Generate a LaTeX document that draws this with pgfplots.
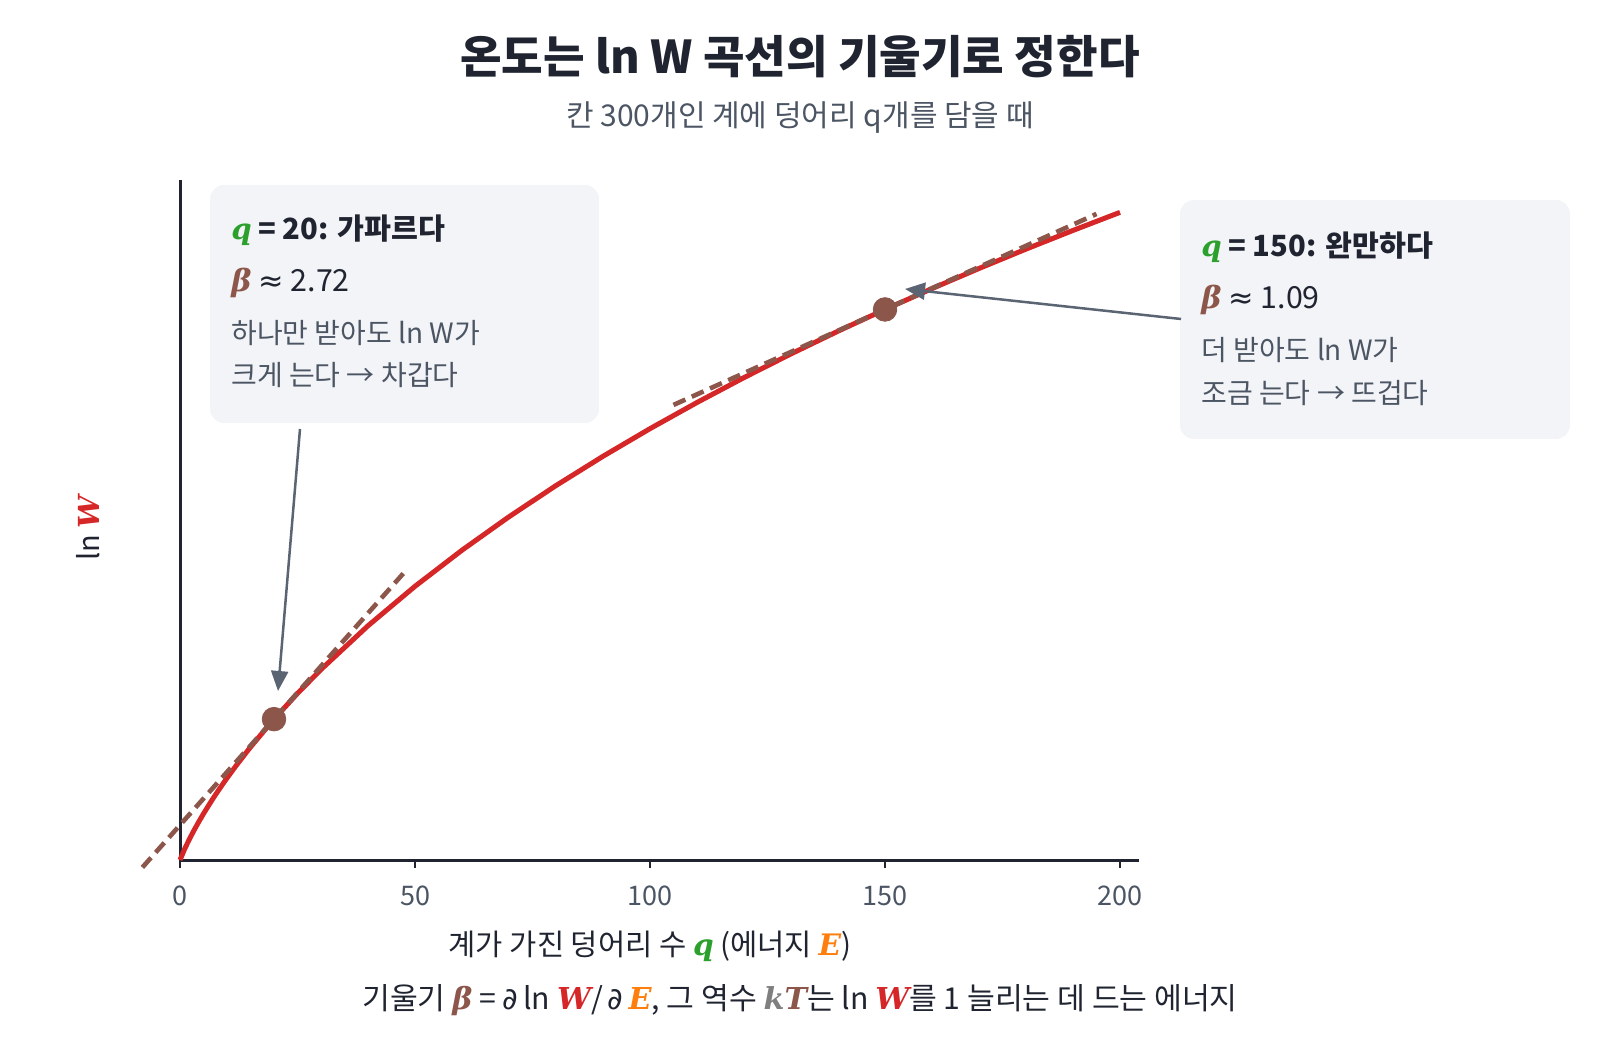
\documentclass[border=0pt]{standalone}
\usepackage{fontspec}
\setmainfont{Noto Sans CJK KR}
\newfontfamily\serifbi{DejaVu Serif}
\newfontfamily\symfont{DejaVu Sans}
\usepackage{pgfplots}
\usepackage{pgfplotstable}
\pgfplotsset{compat=1.18}
\usetikzlibrary{arrows.meta}

\definecolor{curvered}{HTML}{D62728}
\definecolor{tanbrown}{HTML}{8C564B}
\definecolor{qgreen}{HTML}{2CA02C}
\definecolor{eorange}{HTML}{FF7F0E}
\definecolor{ktgray}{HTML}{7F7F7F}
\definecolor{ink}{HTML}{1F2430}
\definecolor{subgray}{HTML}{4B5563}
\definecolor{boxfill}{HTML}{F3F4F7}
\definecolor{arrowgray}{HTML}{5A6473}

% bold italic serif symbol in a colour
\newcommand{\bv}[2]{{\color{#1}\serifbi\bfseries\itshape #2}}

% ln W for an Einstein solid with 300 oscillators
\pgfplotstableread{
q lnW
0 0
1 5.704
2 10.718
3 15.330
4 19.657
5 23.765
6 27.693
7 31.471
8 35.119
9 38.652
10 42.082
12 48.676
15 58.002
20 72.361
25 85.565
30 97.860
40 120.324
50 140.587
60 159.143
70 176.318
80 192.339
90 207.379
100 221.568
110 235.011
120 247.792
130 259.980
140 271.635
150 282.804
160 293.531
170 303.852
180 313.800
190 323.401
200 332.682
}\lnWtable

\begin{document}
\begin{tikzpicture}
\path[use as bounding box] (0,0) rectangle (800pt,520pt);

% title
\node[anchor=base, font=\fontsize{22.6}{26}\selectfont\bfseries, text=ink]
  at (400pt,483pt) {온도는 ln W 곡선의 기울기로 정한다};
\node[anchor=base, font=\fontsize{15}{17}\selectfont, text=subgray]
  at (400pt,456.5pt) {칸 300개인 계에 덩어리 q개를 담을 때};

% annotation boxes
\fill[boxfill, rounded corners=7pt] (105pt,308.5pt) rectangle (299.5pt,427.5pt);
\fill[boxfill, rounded corners=7pt] (590pt,300.5pt) rectangle (785pt,420pt);

\begin{axis}[
  at={(90pt,90pt)}, anchor=south west,
  scale only axis, width=479.4pt, height=340pt,
  xmin=0, xmax=204, ymin=0, ymax=349.3,
  axis x line=bottom, axis y line=left,
  axis line style={-, draw=ink},
  every outer x axis line/.append style={line width=1.5pt},
  every outer y axis line/.append style={line width=1.5pt},
  every inner x axis line/.append style={line width=1.5pt},
  every inner y axis line/.append style={line width=1.5pt},
  xtick={0,50,100,150,200}, xticklabels={0,50,100,150,200},
  ytick=\empty,
  tick align=outside, major tick length=4pt,
  every tick/.style={draw=ink, line width=1.1pt},
  xticklabel style={font=\fontsize{13.5}{15}\selectfont, text=subgray, yshift=-5.5pt},
  clip=false,
]
\addplot[curvered, line width=2.5pt] table[x=q, y=lnW] {\lnWtable};
\addplot[tanbrown, line width=2.3pt, dash pattern=on 6.5pt off 3.5pt]
  coordinates {(-8,-3.80) (48,148.52)};
\addplot[tanbrown, line width=2.3pt, dash pattern=on 6.5pt off 3.5pt]
  coordinates {(105,233.75) (195,331.85)};
\addplot[only marks, mark=*, mark size=5.9pt,
  mark options={draw=tanbrown, fill=tanbrown}]
  coordinates {(20,72.361) (150,282.804)};
\end{axis}

% arrows
\draw[arrowgray, line width=1.25pt, -{Triangle[length=10pt,width=8.5pt]}]
  (150pt,305.5pt) -- (139pt,174.5pt);
\draw[arrowgray, line width=1.25pt, -{Triangle[length=10pt,width=8.5pt]}]
  (590.5pt,360.5pt) -- (452.5pt,375.5pt);

% box texts
\begin{scope}[every node/.style={anchor=base west, inner sep=0pt, font=\fontsize{14}{17}\selectfont}]
\node[text=ink, font=\fontsize{14.6}{17}\selectfont\bfseries] at (115.5pt,400.2pt)
  {\bv{qgreen}{q} = 20: 가파르다};
\node[text=ink, font=\fontsize{15.2}{17}\selectfont] at (115.5pt,374pt)
  {\bv{tanbrown}{β} {\symfont ≈} 2.72};
\node[text=subgray] at (115.5pt,348.2pt) {하나만 받아도 ln W가};
\node[text=subgray] at (115.5pt,327pt) {크게 는다 → 차갑다};

\node[text=ink, font=\fontsize{14.6}{17}\selectfont\bfseries] at (600.5pt,391.8pt)
  {\bv{qgreen}{q} = 150: 완만하다};
\node[text=ink, font=\fontsize{15.2}{17}\selectfont] at (600.5pt,365.5pt)
  {\bv{tanbrown}{β} {\symfont ≈} 1.09};
\node[text=subgray] at (600.5pt,339.7pt) {더 받아도 ln W가};
\node[text=subgray] at (600.5pt,318.4pt) {조금 는다 → 뜨겁다};
\end{scope}

% axis labels
\node[rotate=90, anchor=center, font=\fontsize{14.5}{17}\selectfont, text=ink]
  at (44pt,256pt) {ln \bv{curvered}{W}};
\node[anchor=base, font=\fontsize{14.8}{17}\selectfont, text=ink] at (325pt,42.5pt)
  {계가 가진 덩어리 수 \bv{qgreen}{q} (에너지 \bv{eorange}{E})};
\node[anchor=base, font=\fontsize{15.1}{17}\selectfont, text=ink] at (400pt,15.5pt)
  {기울기 \bv{tanbrown}{β} = {\symfont ∂}\,ln \bv{curvered}{W}/\,{\symfont ∂}\,\bv{eorange}{E}, 그 역수 \bv{ktgray}{k}\bv{tanbrown}{T}는 ln \bv{curvered}{W}를 1 늘리는 데 드는 에너지};
\end{tikzpicture}
\end{document}
